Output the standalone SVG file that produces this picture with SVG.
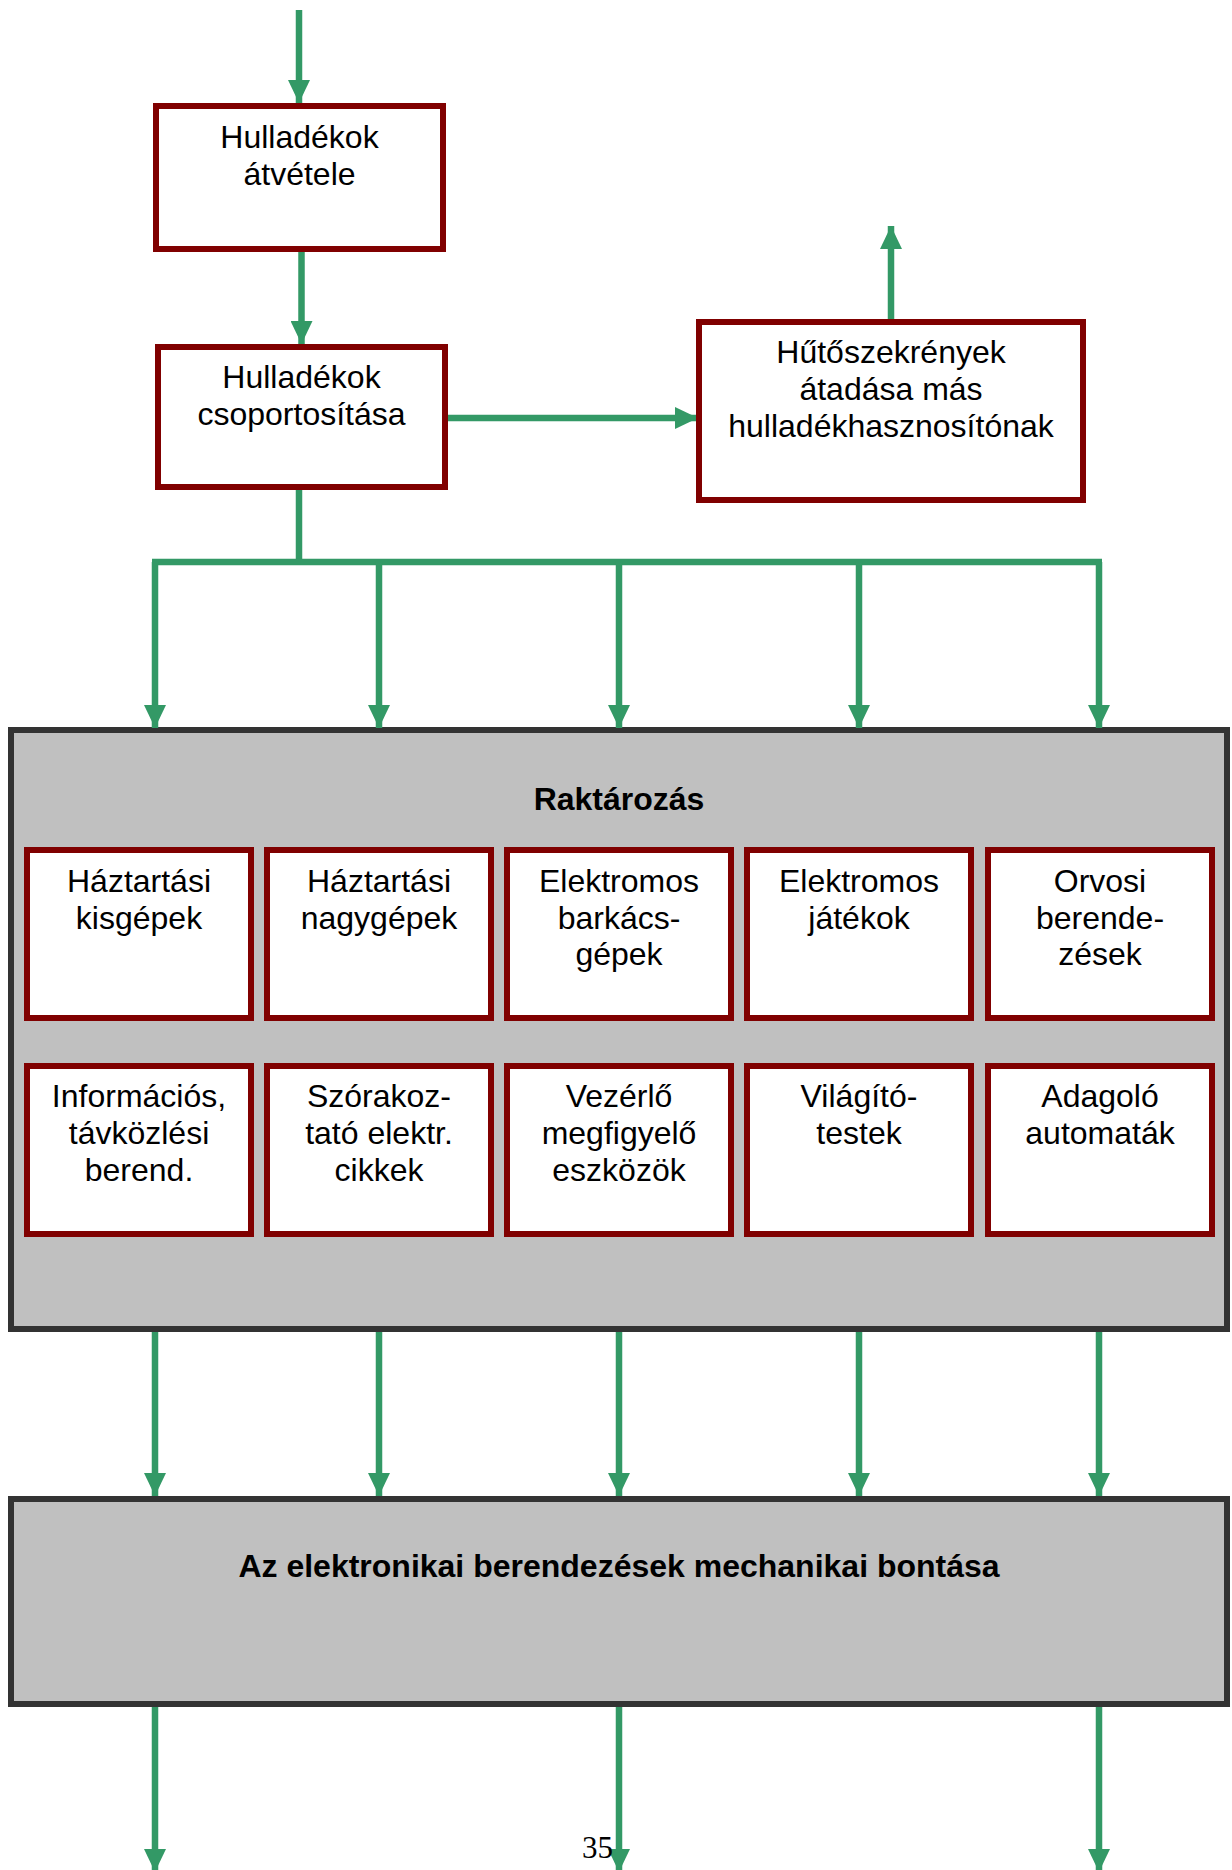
<svg xmlns="http://www.w3.org/2000/svg" width="1232" height="1870" viewBox="0 0 1232 1870">
  <defs>
    <marker id="arrow" viewBox="0 0 23 22" refX="23" refY="11" markerWidth="23" markerHeight="22" markerUnits="userSpaceOnUse" orient="auto">
      <path d="M0,0 L23,11 L0,22 Z" fill="#339966"/>
    </marker>
    <style>
      .step { fill: #ffffff; stroke: #800000; stroke-width: 6; }
      .panel { fill: #c0c0c0; stroke: #333333; stroke-width: 6; }
      .flow { fill: none; stroke: #339966; stroke-width: 6.5; }
      .flow.head { marker-end: url(#arrow); }
      .lbl { font-family: "Liberation Sans", Arial, sans-serif; font-size: 32px; fill: #000000; text-anchor: middle; }
      .title { font-family: "Liberation Sans", Arial, sans-serif; font-size: 32px; font-weight: bold; fill: #000000; text-anchor: middle; }
      .page { font-family: "Liberation Serif", "Times New Roman", serif; font-size: 31px; fill: #000000; }
    </style>
  </defs>

  <rect width="1232" height="1870" fill="#ffffff"/>

  <!-- storage panel -->
  <g id="raktarozas">
    <rect class="panel" x="11" y="730" width="1216" height="599"/>
    <text class="title" x="619" y="810">Raktározás</text>
  </g>

  <!-- dismantling panel -->
  <g id="bontas">
    <rect class="panel" x="11" y="1499" width="1216" height="205"/>
    <text class="title" x="619" y="1577">Az elektronikai berendezések mechanikai bontása</text>
  </g>

  <!-- connectors -->
  <g id="connectors">
    <line class="flow head" x1="299" y1="10" x2="299" y2="103"/>
    <line class="flow head" x1="301.5" y1="252" x2="301.5" y2="344"/>
    <line class="flow head" x1="448" y1="418" x2="698" y2="418"/>
    <line class="flow head" x1="891" y1="319" x2="891" y2="226"/>
    <!-- distribution bus to storage -->
    <line class="flow" x1="299" y1="489" x2="299" y2="562"/>
    <line class="flow" x1="152" y1="562" x2="1102" y2="562"/>
    <line class="flow head" x1="155" y1="562" x2="155" y2="728"/>
    <line class="flow head" x1="379" y1="562" x2="379" y2="728"/>
    <line class="flow head" x1="619" y1="562" x2="619" y2="728"/>
    <line class="flow head" x1="859" y1="562" x2="859" y2="728"/>
    <line class="flow head" x1="1099" y1="562" x2="1099" y2="728"/>
    <!-- storage to dismantling -->
    <line class="flow head" x1="155" y1="1332" x2="155" y2="1496"/>
    <line class="flow head" x1="379" y1="1332" x2="379" y2="1496"/>
    <line class="flow head" x1="619" y1="1332" x2="619" y2="1496"/>
    <line class="flow head" x1="859" y1="1332" x2="859" y2="1496"/>
    <line class="flow head" x1="1099" y1="1332" x2="1099" y2="1496"/>
    <!-- outputs -->
    <line class="flow head" x1="155" y1="1707" x2="155" y2="1872"/>
    <line class="flow head" x1="619" y1="1707" x2="619" y2="1872"/>
    <line class="flow head" x1="1099" y1="1707" x2="1099" y2="1872"/>
  </g>

  <g id="atvetel">
    <rect class="step" x="156" y="106" width="287" height="143"/>
    <text class="lbl" x="299.5" y="148">Hulladékok</text>
    <text class="lbl" x="299.5" y="184.5">átvétele</text>
  </g>

  <g id="csoportositas">
    <rect class="step" x="158" y="347" width="287" height="140"/>
    <text class="lbl" x="301.5" y="388">Hulladékok</text>
    <text class="lbl" x="301.5" y="425">csoportosítása</text>
  </g>

  <g id="hutoszekrenyek">
    <rect class="step" x="699" y="322" width="384" height="178"/>
    <text class="lbl" x="891" y="363">Hűtőszekrények</text>
    <text class="lbl" x="891" y="400">átadása más</text>
    <text class="lbl" x="891" y="437">hulladékhasznosítónak</text>
  </g>

  <!-- storage categories, row 1 -->
  <g id="haztartasi-kisgepek">
    <rect class="step" x="27" y="850" width="224" height="168"/>
    <text class="lbl" x="139" y="892">Háztartási</text>
    <text class="lbl" x="139" y="928.5">kisgépek</text>
  </g>
  <g id="haztartasi-nagygepek">
    <rect class="step" x="267" y="850" width="224" height="168"/>
    <text class="lbl" x="379" y="892">Háztartási</text>
    <text class="lbl" x="379" y="928.5">nagygépek</text>
  </g>
  <g id="barkacsgepek">
    <rect class="step" x="507" y="850" width="224" height="168"/>
    <text class="lbl" x="619" y="892">Elektromos</text>
    <text class="lbl" x="619" y="928.5">barkács-</text>
    <text class="lbl" x="619" y="965">gépek</text>
  </g>
  <g id="jatekok">
    <rect class="step" x="747" y="850" width="224" height="168"/>
    <text class="lbl" x="859" y="892">Elektromos</text>
    <text class="lbl" x="859" y="928.5">játékok</text>
  </g>
  <g id="orvosi">
    <rect class="step" x="988" y="850" width="224" height="168"/>
    <text class="lbl" x="1100" y="892">Orvosi</text>
    <text class="lbl" x="1100" y="928.5">berende-</text>
    <text class="lbl" x="1100" y="965">zések</text>
  </g>

  <!-- storage categories, row 2 -->
  <g id="informacios">
    <rect class="step" x="27" y="1066" width="224" height="168"/>
    <text class="lbl" x="139" y="1107">Információs,</text>
    <text class="lbl" x="139" y="1144">távközlési</text>
    <text class="lbl" x="139" y="1181">berend.</text>
  </g>
  <g id="szorakoztato">
    <rect class="step" x="267" y="1066" width="224" height="168"/>
    <text class="lbl" x="379" y="1107">Szórakoz-</text>
    <text class="lbl" x="379" y="1144">tató elektr.</text>
    <text class="lbl" x="379" y="1181">cikkek</text>
  </g>
  <g id="vezerlo">
    <rect class="step" x="507" y="1066" width="224" height="168"/>
    <text class="lbl" x="619" y="1107">Vezérlő</text>
    <text class="lbl" x="619" y="1144">megfigyelő</text>
    <text class="lbl" x="619" y="1181">eszközök</text>
  </g>
  <g id="vilagitotestek">
    <rect class="step" x="747" y="1066" width="224" height="168"/>
    <text class="lbl" x="859" y="1107">Világító-</text>
    <text class="lbl" x="859" y="1144">testek</text>
  </g>
  <g id="adagolo">
    <rect class="step" x="988" y="1066" width="224" height="168"/>
    <text class="lbl" x="1100" y="1107">Adagoló</text>
    <text class="lbl" x="1100" y="1144">automaták</text>
  </g>

  <text class="page" x="582" y="1858">35</text>
</svg>
